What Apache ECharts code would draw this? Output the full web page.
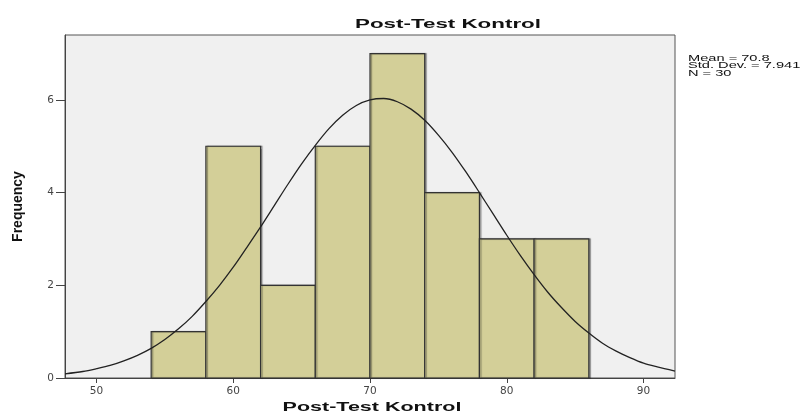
<!DOCTYPE html>
<html>
<head>
<meta charset="utf-8">
<script src="https://cdn.jsdelivr.net/npm/echarts@6/dist/echarts.min.js"></script>
<style>
  html, body { margin: 0; padding: 0; background: #fff; }
  #chart { width: 805px; height: 416px; }
</style>
</head>
<body>
<div id="chart"></div>
<script>
// histogram bins (lower edge, upper edge) and counts
const binStart = [54, 58, 62, 66, 70, 74, 78, 82];
const binEnd = [58, 62, 66, 70, 74, 78, 82, 86];
const counts = [1, 5, 2, 5, 7, 4, 3, 3];

// normal curve
const curveX = [47.7, 49, 50, 51, 52, 53, 54, 55, 56, 57, 58, 59, 60, 61, 62, 63, 64, 65, 66, 67, 68, 69, 70,
  71, 72, 73, 74, 75, 76, 77, 78, 79, 80, 81, 82, 83, 84, 85, 86, 87, 88, 89, 90, 91, 92.3];
const curveY = [0.09, 0.14, 0.2, 0.27, 0.37, 0.49, 0.64, 0.83, 1.06, 1.33, 1.65, 2.0, 2.39, 2.82, 3.26, 3.72, 4.18, 4.62, 5.02, 5.38, 5.67, 5.88, 6.0,
  6.03, 5.96, 5.8, 5.56, 5.24, 4.87, 4.45, 4.0, 3.54, 3.08, 2.64, 2.23, 1.85, 1.52, 1.22, 0.97, 0.75, 0.58, 0.44, 0.32, 0.24, 0.15];

const xTicks = [50, 60, 70, 80, 90];
const yTicks = [0, 2, 4, 6];
const statLines = ['Mean = 70.8', 'Std. Dev. = 7.941', 'N = 30'];

const chart = echarts.init(document.getElementById('chart'));

const barData = counts.map((c, i) => [binStart[i], binEnd[i], c]);
const lineData = curveX.map((x, i) => [x, curveY[i]]);

// the source picture is stretched sideways, so the texts are too
const stretch = 1.72;

const options = {
  animation: false,
  graphic: [
    {
      type: 'text',
      x: 448, y: 24,
      scaleX: stretch,
      style: {
        text: 'Post-Test Kontrol',
        font: 'bold 13px Arial',
        fill: '#111',
        align: 'center',
        verticalAlign: 'middle'
      }
    },
    {
      type: 'text',
      x: 372, y: 408,
      scaleX: stretch,
      style: {
        text: 'Post-Test Kontrol',
        font: 'bold 12.5px Arial',
        fill: '#111',
        align: 'center',
        verticalAlign: 'middle'
      }
    },
    {
      type: 'text',
      x: 688, y: 55,
      scaleX: stretch,
      style: {
        text: statLines.join('\n'),
        font: '8.5px Arial',
        lineHeight: 7.3,
        fill: '#111',
        align: 'left',
        verticalAlign: 'top'
      }
    }
  ],
  grid: {
    left: 65, right: 130, top: 35, bottom: 38,
    show: true,
    backgroundColor: '#f0f0f0',
    borderColor: '#555',
    borderWidth: 1
  },
  xAxis: {
    type: 'value',
    min: 47.7,
    max: 92.3,
    splitLine: { show: false },
    axisLine: { lineStyle: { color: '#444' } },
    axisTick: { customValues: xTicks, length: 5, lineStyle: { color: '#444' } },
    axisLabel: { customValues: xTicks, fontFamily: 'DejaVu Sans', fontSize: 10.5, color: '#444', margin: 8 }
  },
  yAxis: {
    type: 'value',
    min: 0,
    max: 7.4,
    name: 'Frequency',
    nameLocation: 'center',
    nameGap: 40,
    nameTextStyle: { fontFamily: 'Arial', fontWeight: 'bold', fontSize: 14, color: '#111' },
    splitLine: { show: false },
    axisLine: { show: true, lineStyle: { color: '#444' } },
    axisTick: { show: true, customValues: yTicks, length: 9, lineStyle: { color: '#444' } },
    axisLabel: { customValues: yTicks, fontFamily: 'DejaVu Sans', fontSize: 10.5, color: '#444', margin: 11 }
  },
  series: [
    {
      type: 'custom',
      data: barData,
      encode: { x: [0, 1], y: 2 },
      renderItem(params, api) {
        const p0 = api.coord([api.value(0), api.value(2)]);
        const p1 = api.coord([api.value(1), 0]);
        return {
          type: 'rect',
          shape: { x: p0[0], y: p0[1], width: p1[0] - p0[0], height: p1[1] - p0[1] },
          style: {
            fill: '#d3cf98',
            stroke: '#333',
            lineWidth: 1.2,
            shadowColor: 'rgba(0,0,0,0.35)',
            shadowOffsetX: 1.5,
            shadowOffsetY: 0,
            shadowBlur: 1
          }
        };
      },
      z: 2
    },
    {
      type: 'line',
      data: lineData,
      smooth: 0.3,
      showSymbol: false,
      lineStyle: { color: '#222', width: 1.3 },
      z: 3
    }
  ]
};

chart.setOption(options);
</script>
</body>
</html>
